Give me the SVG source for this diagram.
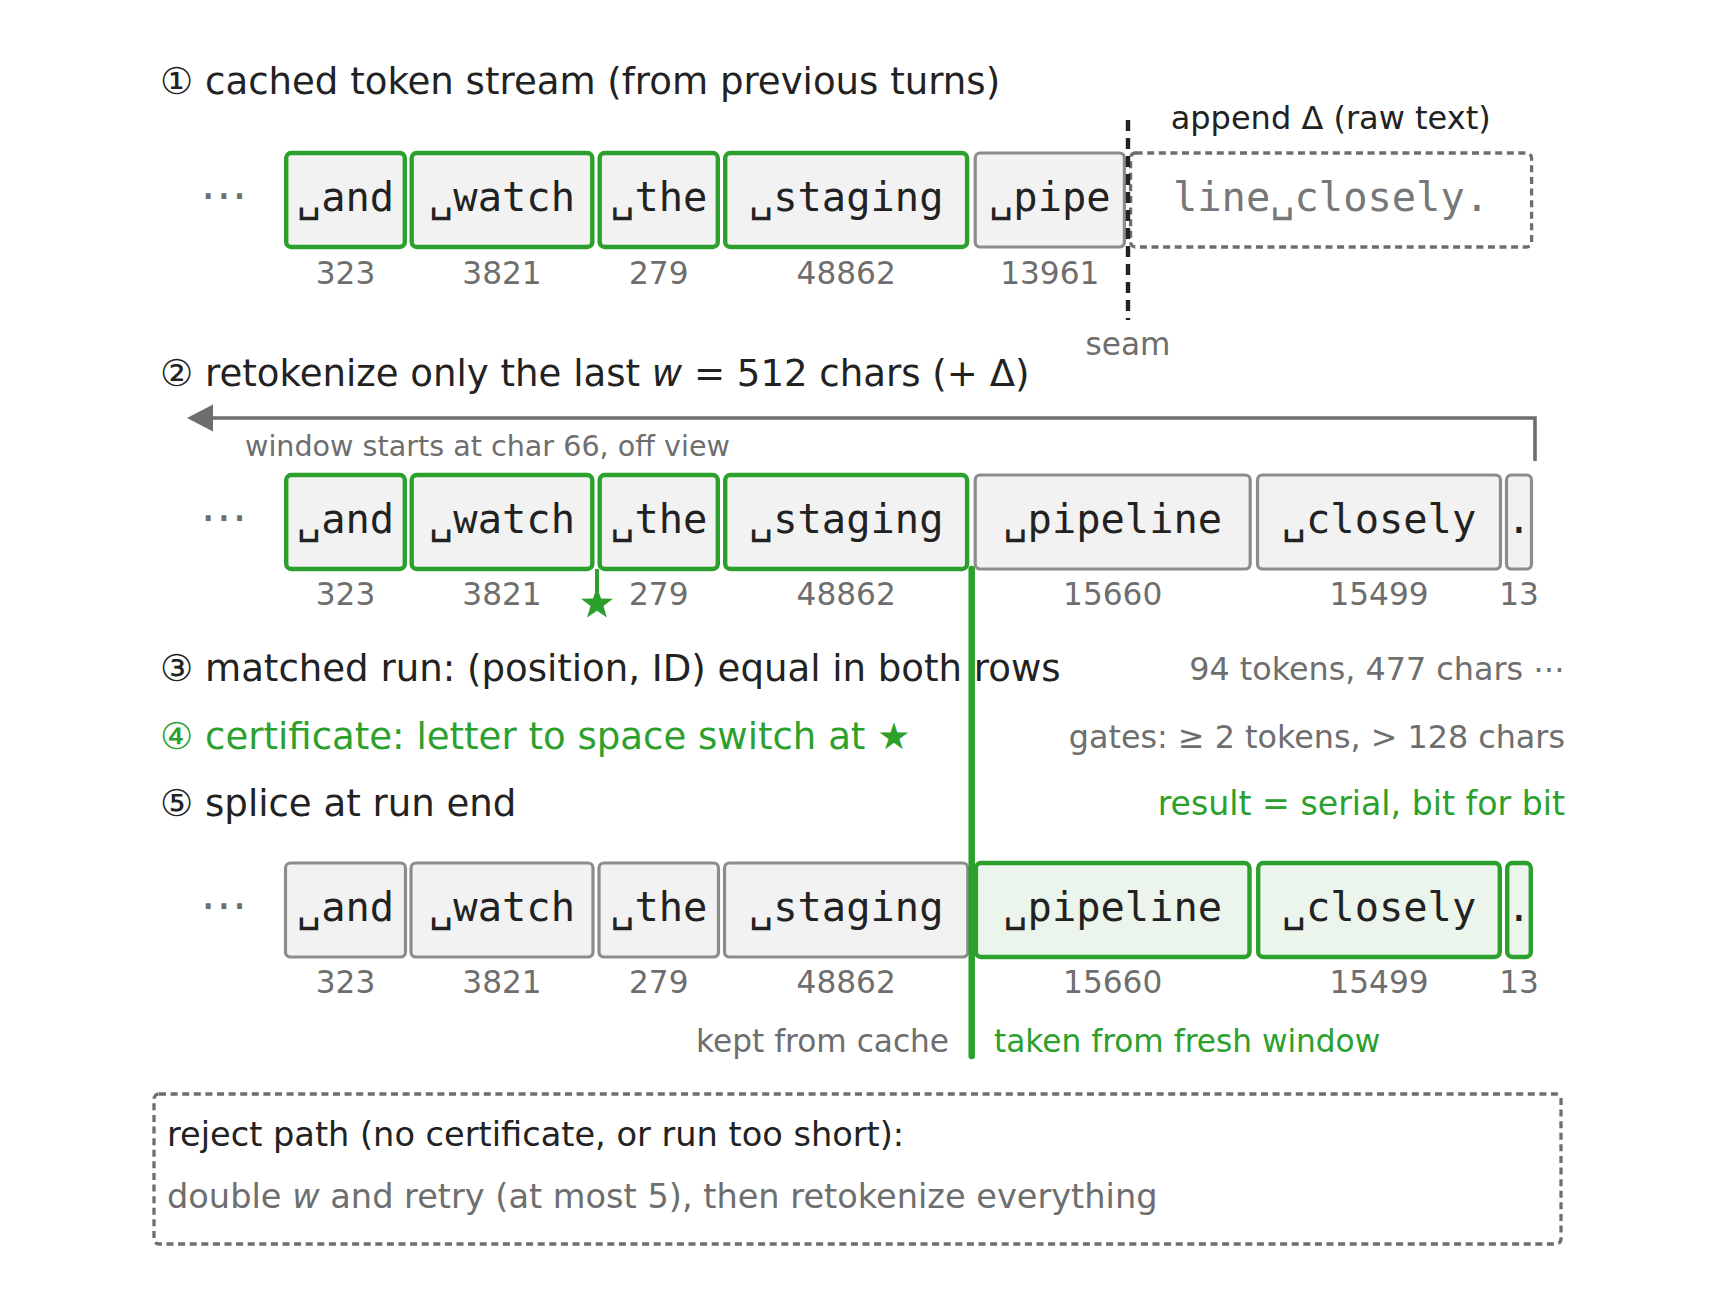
<svg xmlns="http://www.w3.org/2000/svg" width="1729" height="1316" viewBox="0 0 1729 1316">
<style>
  .bg{fill:#ffffff}
  .title{font-family:"DejaVu Sans","Liberation Sans",sans-serif;font-size:37.1px;fill:#222222}
  .note{font-family:"DejaVu Sans","Liberation Sans",sans-serif;font-size:31.8px;fill:#222222}
  .note2{font-family:"DejaVu Sans","Liberation Sans",sans-serif;font-size:31.2px}
  .small{font-family:"DejaVu Sans","Liberation Sans",sans-serif;font-size:28.6px;fill:#6e6e6e}
  .id{font-family:"DejaVu Sans","Liberation Sans",sans-serif;font-size:31.2px;fill:#6e6e6e;text-anchor:middle}
  .tok{font-family:"DejaVu Sans Mono","Liberation Mono",monospace;font-size:40.4px;fill:#222222;text-anchor:middle}
  .ell{font-family:"DejaVu Sans","Liberation Sans",sans-serif;font-size:47px;fill:#6e6e6e;text-anchor:middle}
  .boxg{fill:#f2f2f2;stroke:#2ca02c;stroke-width:4.4}
  .boxn{fill:#f2f2f2;stroke:#8c8c8c;stroke-width:3.2}
  .boxf{fill:#ebf5eb;stroke:#2ca02c;stroke-width:4.4}
  .dash{fill:none;stroke:#6e6e6e;stroke-width:3.3;stroke-dasharray:7 4.6}
  .reject{font-family:"DejaVu Sans","Liberation Sans",sans-serif;font-size:33.6px}
  .gray{fill:#6e6e6e}
  .green{fill:#2ca02c}
  .ghost{fill:#777777}
</style>
<rect class="bg" x="0" y="0" width="1729" height="1316"/>

<!-- step titles -->
<g id="titles">
  <text class="title" x="160" y="94">① cached token stream (from previous turns)</text>
  <text class="title" x="160" y="386">② retokenize only the last <tspan font-style="italic">w</tspan> = 512 chars (+ Δ)</text>
  <text class="title" x="160" y="681">③ matched run: (position, ID) equal in both rows</text>
  <text class="title green" x="160" y="749">④ certificate: letter to space switch at ★</text>
  <text class="title" x="160" y="816">⑤ splice at run end</text>
  <text class="note gray" x="1565" y="680" text-anchor="end">94 tokens, 477 chars ⋯</text>
  <text class="note gray" x="1565" y="748" text-anchor="end">gates: ≥ 2 tokens, &gt; 128 chars</text>
  <text class="note green" x="1565" y="815" text-anchor="end" style="font-size:33.2px">result = serial, bit for bit</text>
</g>

<!-- row 1: cached stream -->
<g id="row1">
  <text class="ell" x="224" y="211">⋯</text>
  <g id="r1-and"><rect class="boxg" x="286.2" y="153" width="118.6" height="94" rx="5"/><text class="tok" x="345.5" y="211">␣and</text><text class="id" x="345.5" y="284">323</text></g>
  <g id="r1-watch"><rect class="boxg" x="411.7" y="153" width="180.6" height="94" rx="5"/><text class="tok" x="502" y="211">␣watch</text><text class="id" x="502" y="284">3821</text></g>
  <g id="r1-the"><rect class="boxg" x="599.7" y="153" width="118.1" height="94" rx="5"/><text class="tok" x="658.8" y="211">␣the</text><text class="id" x="658.8" y="284">279</text></g>
  <g id="r1-staging"><rect class="boxg" x="725.2" y="153" width="241.9" height="94" rx="5"/><text class="tok" x="846.2" y="211">␣staging</text><text class="id" x="846.2" y="284">48862</text></g>
  <g id="r1-pipe"><rect class="boxn" x="975.2" y="153" width="149.2" height="94" rx="5"/><text class="tok" x="1049.8" y="211">␣pipe</text><text class="id" x="1049.8" y="284">13961</text></g>
  <g id="r1-delta"><rect class="dash" x="1130.6" y="153" width="401" height="94" rx="5"/><text class="tok ghost" x="1331" y="211">line␣closely.</text></g>
  <text class="note" x="1170.7" y="129" style="font-size:32px">append Δ (raw text)</text>
  <text class="id" x="1128" y="355">seam</text>
</g>

<!-- row 2: fresh window -->
<g id="row2">
  <text class="small" x="245" y="456">window starts at char 66, off view</text>
  <text class="ell" x="224" y="533">⋯</text>
  <g id="r2-and"><rect class="boxg" x="286.2" y="475" width="118.6" height="94" rx="5"/><text class="tok" x="345.5" y="533">␣and</text><text class="id" x="345.5" y="605">323</text></g>
  <g id="r2-watch"><rect class="boxg" x="411.7" y="475" width="180.6" height="94" rx="5"/><text class="tok" x="502" y="533">␣watch</text><text class="id" x="502" y="605">3821</text></g>
  <g id="r2-the"><rect class="boxg" x="599.7" y="475" width="118.1" height="94" rx="5"/><text class="tok" x="658.8" y="533">␣the</text><text class="id" x="658.8" y="605">279</text></g>
  <g id="r2-staging"><rect class="boxg" x="725.2" y="475" width="241.9" height="94" rx="5"/><text class="tok" x="846.2" y="533">␣staging</text><text class="id" x="846.2" y="605">48862</text></g>
  <g id="r2-pipeline"><rect class="boxn" x="975.2" y="475" width="275" height="94" rx="5"/><text class="tok" x="1112.7" y="533">␣pipeline</text><text class="id" x="1112.7" y="605">15660</text></g>
  <g id="r2-closely"><rect class="boxn" x="1257.5" y="475" width="243" height="94" rx="5"/><text class="tok" x="1379" y="533">␣closely</text><text class="id" x="1379" y="605">15499</text></g>
  <g id="r2-dot"><rect class="boxn" x="1506.5" y="475" width="25" height="94" rx="5"/><text class="tok" x="1519" y="533">.</text><text class="id" x="1519" y="605">13</text></g>
</g>

<!-- row 3: spliced result -->
<g id="row3">
  <text class="ell" x="224" y="921">⋯</text>
  <g id="r3-and"><rect class="boxn" x="285.5" y="863" width="120" height="94" rx="5"/><text class="tok" x="345.5" y="921">␣and</text><text class="id" x="345.5" y="993">323</text></g>
  <g id="r3-watch"><rect class="boxn" x="411" y="863" width="182" height="94" rx="5"/><text class="tok" x="502" y="921">␣watch</text><text class="id" x="502" y="993">3821</text></g>
  <g id="r3-the"><rect class="boxn" x="599" y="863" width="119.5" height="94" rx="5"/><text class="tok" x="658.8" y="921">␣the</text><text class="id" x="658.8" y="993">279</text></g>
  <g id="r3-staging"><rect class="boxn" x="724.5" y="863" width="243.3" height="94" rx="5"/><text class="tok" x="846.2" y="921">␣staging</text><text class="id" x="846.2" y="993">48862</text></g>
  <g id="r3-pipeline"><rect class="boxf" x="975.9" y="863" width="273.6" height="94" rx="5"/><text class="tok" x="1112.7" y="921">␣pipeline</text><text class="id" x="1112.7" y="993">15660</text></g>
  <g id="r3-closely"><rect class="boxf" x="1258.2" y="863" width="241.6" height="94" rx="5"/><text class="tok" x="1379" y="921">␣closely</text><text class="id" x="1379" y="993">15499</text></g>
  <g id="r3-dot"><rect class="boxf" x="1507.2" y="863" width="23.6" height="94" rx="5"/><text class="tok" x="1519" y="921">.</text><text class="id" x="1519" y="993">13</text></g>
  <text class="note2 gray" x="949" y="1052" text-anchor="end">kept from cache</text>
  <text class="note2 green" x="994" y="1052">taken from fresh window</text>
</g>

<!-- connectors -->
<g id="connectors">
  <line x1="1128" y1="120" x2="1128" y2="320" stroke="#222222" stroke-width="4.4" stroke-dasharray="11 7"/>
  <path d="M1535,461 V418 H210" fill="none" stroke="#6e6e6e" stroke-width="3.6"/>
  <polygon points="187,418 213,404.5 213,431.5" fill="#6e6e6e"/>
  <line x1="597" y1="569" x2="597" y2="592" stroke="#2ca02c" stroke-width="4"/>
  <polygon points="597,587 601,598.5 613,598.8 603.5,606 606.9,617.6 597,610.8 587.1,617.6 590.5,606 581,598.8 593,598.5" fill="#2ca02c"/>
  <line x1="971.7" y1="569" x2="971.7" y2="1056" stroke="#2ca02c" stroke-width="6.5" stroke-linecap="round"/>
</g>

<!-- reject path -->
<g id="reject">
  <rect class="dash" x="154" y="1094" width="1407" height="150" rx="5"/>
  <text class="reject" x="167" y="1146" fill="#222222">reject path (no certificate, or run too short):</text>
  <text class="reject" x="167" y="1208" fill="#6e6e6e">double <tspan font-style="italic">w</tspan> and retry (at most 5), then retokenize everything</text>
</g>
</svg>
